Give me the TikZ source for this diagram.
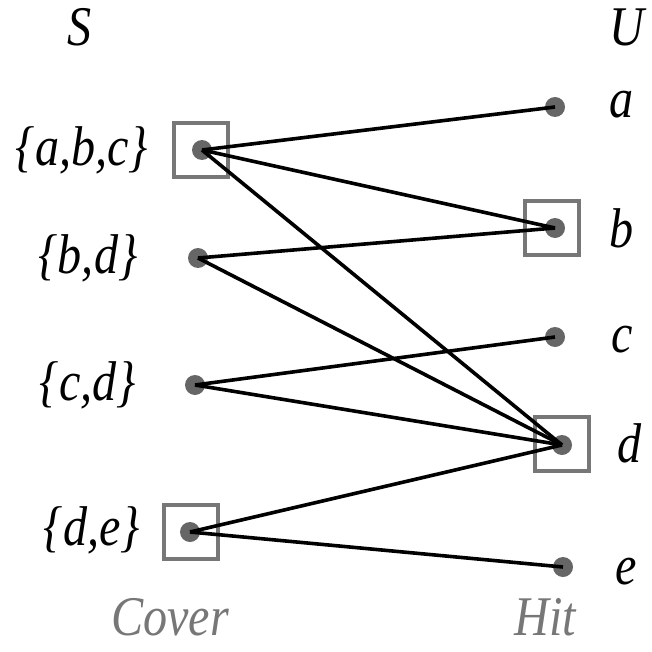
\documentclass[tikz,border=0pt]{standalone}
\usepackage{fontspec}
\setmainfont{Liberation Serif}[ItalicFont={Liberation Serif Italic}]
\usepackage{xcolor}
\usepackage{tikz}
\definecolor{dotgray}{HTML}{666666}
\definecolor{boxgray}{HTML}{777777}
\tikzset{
  dotnode/.style={circle, fill=dotgray, inner sep=0pt, minimum size=20pt},
  coverbox/.style={draw=boxgray, line width=4pt, minimum size=54pt, inner sep=0pt},
  lbl/.style={font=\fontsize{56}{58}\selectfont\itshape, inner sep=1pt, xscale=0.86, transform shape},
  graylbl/.style={lbl, text=boxgray},
  edge/.style={black, line width=3.6pt}
}
\begin{document}
\begin{tikzpicture}[x=1pt, y=-1pt]
\useasboundingbox (0,0) rectangle (651,652);

% Headings
\node[lbl] (hS) at (80,27) {S};
\node[lbl] (hU) at (627,27) {U};

% Sets on the left
\node[dotnode] (s1) at (202,150) {};
\node[dotnode] (s2) at (198,258) {};
\node[dotnode] (s3) at (195,385) {};
\node[dotnode] (s4) at (190,532) {};
\node[lbl] (ls1) at (82,150) {\{a,b,c\}};
\node[lbl] (ls2) at (88,258) {\{b,d\}};
\node[lbl] (ls3) at (88,385) {\{c,d\}};
\node[lbl] (ls4) at (92,530) {\{d,e\}};

% Elements on the right
\node[dotnode] (u1) at (555,107) {};
\node[dotnode] (u2) at (555,228) {};
\node[dotnode] (u3) at (555,337) {};
\node[dotnode] (u4) at (562,445) {};
\node[dotnode] (u5) at (563,567) {};
\node[lbl] (lu1) at (622,105) {a};
\node[lbl] (lu2) at (622,228) {b};
\node[lbl] (lu3) at (622,340) {c};
\node[lbl] (lu4) at (630,443) {d};
\node[lbl] (lu5) at (626,572) {e};

% Cover and hit boxes
\node[coverbox] (b1) at (201,150) {};
\node[coverbox] (b4) at (191,532) {};
\node[coverbox] (b2) at (552,228) {};
\node[coverbox] (b3) at (562,444) {};

% Edges
\draw[edge] (s1.center) -- (u1.center);
\draw[edge] (s1.center) -- (u2.center);
\draw[edge] (s1.center) -- (u4.center);
\draw[edge] (s2.center) -- (u2.center);
\draw[edge] (s2.center) -- (u4.center);
\draw[edge] (s3.center) -- (u3.center);
\draw[edge] (s3.center) -- (u4.center);
\draw[edge] (s4.center) -- (u4.center);
\draw[edge] (s4.center) -- (u5.center);

% Captions
\node[graylbl] (cov) at (170,617) {Cover};
\node[graylbl] (hit) at (545,617) {Hit};
\end{tikzpicture}
\end{document}
